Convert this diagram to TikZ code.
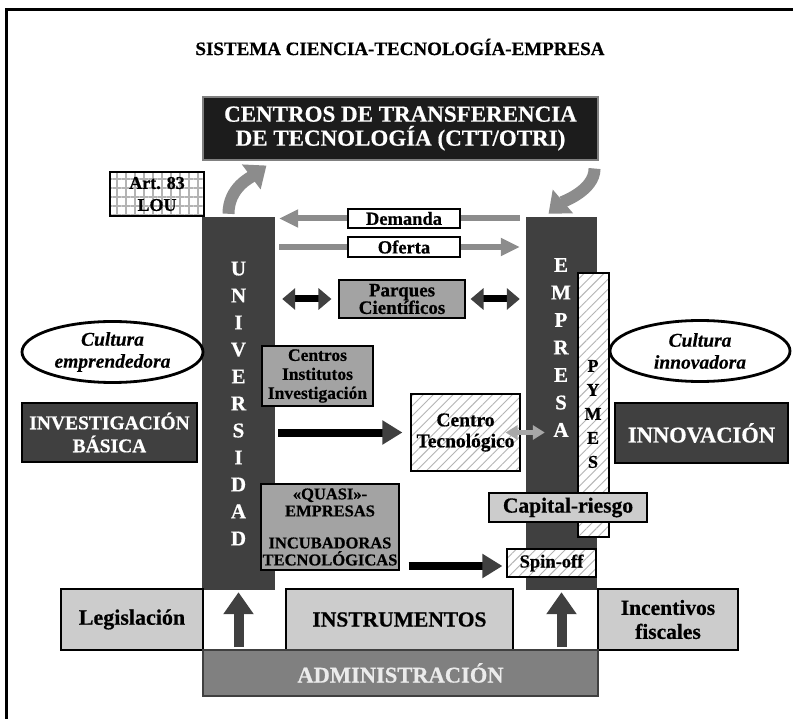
\documentclass[tikz,border=0pt]{standalone}
\usepackage{fontspec}
\setmainfont{Liberation Serif}[BoldFeatures={FakeBold=0.6},BoldItalicFeatures={FakeBold=0.3}]
\usetikzlibrary{arrows.meta,patterns.meta,shapes.geometric,calc}

\definecolor{barc}{HTML}{404040}
\definecolor{cttc}{HTML}{1C1C1C}
\definecolor{midc}{HTML}{A3A3A3}
\definecolor{lightc}{HTML}{CCCCCC}
\definecolor{admc}{HTML}{808080}
\definecolor{flowc}{HTML}{8C8C8C}
\definecolor{hatchc}{HTML}{B4B4B4}
\definecolor{linkc}{HTML}{A8A8A8}

\newcommand{\fsz}[2]{\fontsize{#1}{#2}\selectfont\bfseries}

\tikzset{
  box/.style={draw=black, line width=1.1pt, inner sep=0pt, align=center,
              minimum width=#1},
  darkbox/.style={box=#1, fill=barc, text=white},
  midbox/.style={box=#1, fill=midc},
  lightbox/.style={box=#1, fill=lightc},
  hatchbox/.style={box=#1, preaction={fill=white},
     pattern={Lines[angle=45,distance=7pt,line width=0.9pt]}, pattern color=hatchc},
  gridbox/.style={box=#1, preaction={fill=white},
     pattern={Hatch[angle=0,distance=9pt,line width=1.2pt]}, pattern color=hatchc},
  pillar/.style={fill=barc, draw=none, inner sep=0pt, minimum width=#1},
  ovalnote/.style={ellipse, draw=black, line width=2.8pt, fill=white, inner sep=0pt,
     align=center, minimum width=#1, font=\fontsize{19.5}{22}\selectfont\bfseries\itshape},
  flowline/.style={draw=flowc, line width=6pt, -{Triangle[width=17pt,length=19pt]}},
  pushline/.style={draw=black, line width=8pt,
     -{Triangle[width=23pt,length=20pt,color=barc,fill=barc]}},
  twoway/.style={draw=black, line width=7pt,
     {Triangle[width=21pt,length=13pt,color=barc,fill=barc]}-{Triangle[width=21pt,length=13pt,color=barc,fill=barc]}},
  liftline/.style={draw=barc, line width=10pt, -{Triangle[width=29pt,length=22pt]}},
  curvedflow/.style={draw=flowc, line width=12pt, -{Triangle[width=30pt,length=19pt]}},
}

\begin{document}
\begin{tikzpicture}[x=1pt,y=-1pt]
\useasboundingbox (0,0) rectangle (793,719);
\clip (0,0) rectangle (793,719);

% outer frame (open to the right and below)
\draw[line width=3pt] (6,760) -- (6,10) -- (840,10);

\node[font=\fsz{19}{22}] (title) at (400,47) {SISTEMA CIENCIA-TECNOLOGÍA-EMPRESA};

\node[box=395pt, minimum height=63pt, fill=cttc, draw=gray, text=white,
      font=\fsz{23}{24}] (ctt) at (400.5,128.5)
      {CENTROS DE TRANSFERENCIA\\DE TECNOLOGÍA (CTT/OTRI)};

\node[gridbox=94pt, minimum height=44pt, font=\fsz{18}{22}] (art) at (157,194) {Art. 83\\LOU};

% the two pillars
\node[pillar=73pt, minimum height=373pt, text=white, align=center,
      font=\fsz{21}{27}] (uni) at (238.5,403.5)
      {U\\N\\I\\V\\E\\R\\S\\I\\D\\A\\D};
\node[pillar=71pt, minimum height=373pt] (emp) at (561.5,403.5) {};
\node[text=white, align=center, font=\fsz{21}{27.5}] (emptxt) at (561,347.5)
      {E\\M\\P\\R\\E\\S\\A};

\node[hatchbox=31pt, minimum height=264pt] (pymes) at (593.5,405) {};
\node[align=center, font=\fsz{18}{24}] (pymestxt) at (593,414) {P\\Y\\M\\E\\S};

% flows between university and companies
\node[box=112pt, minimum height=19pt, fill=white, font=\fsz{18.5}{20}] (dem) at (404,218.5) {Demanda};
\node[box=112pt, minimum height=20pt, fill=white, font=\fsz{18.5}{20}] (ofe) at (404,247) {Oferta};

\node[midbox=126pt, minimum height=38pt, font=\fsz{19}{17.5}] (par) at (402,299) {Parques\\Científicos};
\node[midbox=111pt, minimum height=60pt, font=\fsz{17.5}{19}] (cen) at (317.5,376) {Centros\\Institutos\\Investigación};
\node[hatchbox=109pt, minimum height=77pt, font=\fsz{19.5}{21}] (ctec) at (465.5,432.5) {Centro\\Tecnológico};
\node[midbox=138pt, minimum height=86pt, font=\fsz{16.5}{17}] (quasi) at (330,527)
      {«QUASI»-\\EMPRESAS\\[15pt]INCUBADORAS\\TECNOLÓGICAS};
\node[lightbox=158pt, minimum height=29pt, font=\fsz{21.5}{22}] (cap) at (568,507.5) {Capital-riesgo};
\node[hatchbox=89pt, minimum height=28pt, font=\fsz{18.5}{20}] (spin) at (551.5,563) {Spin-off};

% side blocks
\node[ovalnote=181pt, minimum height=61pt] (cemp) at (112.5,352) {Cultura\\emprendedora};
\node[ovalnote=180pt, minimum height=61pt] (cinn) at (700,351) {Cultura\\innovadora};
\node[darkbox=175pt, minimum height=59pt, font=\fsz{19.5}{23}] (inv) at (109.5,432.5) {INVESTIGACIÓN\\BÁSICA};
\node[darkbox=173pt, minimum height=60pt, font=\fsz{22.5}{23}] (inn) at (701.5,433) {INNOVACIÓN};

% administration layer
\node[lightbox=142pt, minimum height=61pt, font=\fsz{22}{24}] (leg) at (132,619.5) {Legislación};
\node[lightbox=227pt, minimum height=61pt, font=\fsz{21.5}{24}] (ins) at (399.5,619.5) {INSTRUMENTOS};
\node[lightbox=140pt, minimum height=61pt, font=\fsz{21.5}{24}] (inc) at (668,619.5) {Incentivos\\fiscales};
\node[box=395pt, minimum height=46pt, fill=admc, draw=barc, text=white!92!black,
      font=\fsz{22.5}{24}] (adm) at (400.5,673) {ADMINISTRACIÓN};

% connectors
\draw[flowline] ($(emp.west|-dem.center)+(-6,0)$) -- ($(uni.east|-dem.center)+(4,0)$);
\draw[flowline] ($(uni.east|-ofe.center)+(4,0)$) -- ($(emp.west|-ofe.center)+(-6,0)$);
\node[box=112pt, minimum height=19pt, fill=white, font=\fsz{18.5}{20}] at (dem) {Demanda};
\node[box=112pt, minimum height=20pt, fill=white, font=\fsz{18.5}{20}] at (ofe) {Oferta};

\draw[twoway] ($(uni.east|-par.center)+(7,0)$) -- ($(par.west)+(-7,0)$);
\draw[twoway] ($(par.east)+(5,0)$) -- ($(emp.west|-par.center)+(-6,0)$);

\draw[pushline] ($(uni.east|-ctec.center)+(3,0)$) -- ($(ctec.west)+(-8,0)$);
\draw[pushline] ($(quasi.east|-spin.center)+(9,3)$) -- ($(spin.west)+(-4,3)$);

\draw[draw=linkc, line width=5pt,
      {Triangle[width=14pt,length=12pt]}-{Triangle[width=14pt,length=12pt]}]
      ($(ctec.east)+(-15,0)$) -- ($(emp.west|-ctec.east)+(19,0)$);

\draw[liftline] ($(uni.south)+(0,57)$) -- ($(uni.south)+(0,2)$);
\draw[liftline] ($(emp.south)+(0,57)$) -- ($(emp.south)+(0,2)$);

\draw[curvedflow] ($(uni.north)+(-10,-3)$) .. controls +(0,-26) and +(-16,12) .. ($(ctt.south west)+(64,5)$);
\draw[curvedflow] ($(ctt.south east)+(-4,8)$) .. controls +(0,22) and +(14,-12) .. ($(emp.north)+(-13,-3)$);

\end{tikzpicture}
\end{document}
